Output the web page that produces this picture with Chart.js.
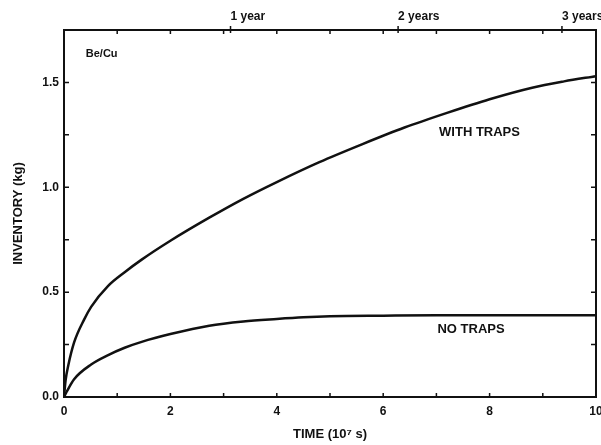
<!DOCTYPE html>
<html>
<head>
<meta charset="utf-8">
<script src="https://cdn.jsdelivr.net/npm/chart.js@4"></script>
<style>
  html, body { margin: 0; padding: 0; background: #fff; }
  #wrap { width: 601px; height: 445px; }
</style>
</head>
<body>
<div id="wrap"><canvas id="chart" width="601" height="445"></canvas></div>
<script>
// time in units of 1e7 s, inventory in kg
const withTrapsTime = [0, 0.03, 0.08, 0.19, 0.38, 0.51, 0.83, 1.14, 1.46, 2.0, 2.73, 3.37, 4.0, 4.8, 5.6, 6.4, 7.2, 8.0, 8.8, 9.4, 10];
const withTrapsKg = [0, 0.08, 0.15, 0.26, 0.37, 0.43, 0.53, 0.595, 0.655, 0.745, 0.855, 0.945, 1.025, 1.12, 1.205, 1.285, 1.355, 1.42, 1.475, 1.505, 1.53];

const noTrapsTime = [0, 0.05, 0.19, 0.51, 0.83, 1.14, 1.46, 2.0, 2.73, 3.37, 4.0, 4.5, 5, 6, 7, 8, 9, 10];
const noTrapsKg = [0, 0.025, 0.085, 0.155, 0.20, 0.235, 0.263, 0.30, 0.34, 0.36, 0.372, 0.38, 0.385, 0.388, 0.39, 0.39, 0.39, 0.39];

const xTicks = [0, 2, 4, 6, 8, 10];
const yTicks = [0, 0.5, 1.0, 1.5];
const xMinor = [1, 2, 3, 4, 5, 6, 7, 8, 9];
const yMinor = [0.25, 0.5, 0.75, 1.0, 1.25, 1.5];
// year marks on the top edge, as placed in the figure (1e7 s)
const yearTicks = [3.13, 6.28, 9.36];
const yearLabels = ["1 year", "2 years", "3 years"];

const notes = [
  { text: "Be/Cu", x: 0.41, y: 1.635, size: 11 },
  { text: "WITH TRAPS", x: 7.05, y: 1.26, size: 13 },
  { text: "NO TRAPS", x: 7.02, y: 0.32, size: 13 },
];

const FONT = "'Liberation Sans', Arial, sans-serif";
const ink = "#111";

const toPoints = (xs, ys) => xs.map((x, i) => ({ x: x, y: ys[i] }));

// inward tick marks + text notes
const decorations = {
  id: "decorations",
  afterDatasetsDraw(chart) {
    const { ctx, chartArea: a, scales } = chart;
    const sx = scales.x, sy = scales.y;
    ctx.save();
    ctx.strokeStyle = ink;
    ctx.lineWidth = 1.5;
    ctx.beginPath();
    xMinor.forEach((v) => {
      const px = sx.getPixelForValue(v);
      ctx.moveTo(px, a.bottom); ctx.lineTo(px, a.bottom - 4);
      ctx.moveTo(px, a.top); ctx.lineTo(px, a.top + 4);
    });
    yMinor.forEach((v) => {
      const py = sy.getPixelForValue(v);
      ctx.moveTo(a.left, py); ctx.lineTo(a.left + 5, py);
      ctx.moveTo(a.right, py); ctx.lineTo(a.right - 5, py);
    });
    yearTicks.forEach((v) => {
      const px = sx.getPixelForValue(v);
      ctx.moveTo(px, a.top - 4); ctx.lineTo(px, a.top + 3);
    });
    ctx.stroke();

    ctx.fillStyle = ink;
    ctx.textAlign = "left";
    ctx.textBaseline = "middle";
    notes.forEach((n) => {
      ctx.font = "bold " + n.size + "px " + FONT;
      ctx.fillText(n.text, sx.getPixelForValue(n.x), sy.getPixelForValue(n.y));
    });
    ctx.restore();
  },
};

const border = { display: true, color: ink, width: 2 };
const noPad = (s) => { s.paddingLeft = 0; s.paddingRight = 0; s.paddingTop = 0; s.paddingBottom = 0; };

new Chart(document.getElementById("chart").getContext("2d"), {
  type: "line",
  data: {
    datasets: [
      {
        label: "WITH TRAPS",
        data: toPoints(withTrapsTime, withTrapsKg),
        borderColor: ink,
        borderWidth: 2.5,
        pointRadius: 0,
        cubicInterpolationMode: "monotone",
        fill: false,
      },
      {
        label: "NO TRAPS",
        data: toPoints(noTrapsTime, noTrapsKg),
        borderColor: ink,
        borderWidth: 2.5,
        pointRadius: 0,
        cubicInterpolationMode: "monotone",
        fill: false,
      },
    ],
  },
  options: {
    responsive: false,
    animation: false,
    layout: { padding: 0 },
    plugins: { legend: { display: false }, tooltip: { enabled: false } },
    scales: {
      x: {
        type: "linear",
        position: "bottom",
        min: 0,
        max: 10,
        afterBuildTicks: (s) => { s.ticks = xTicks.map((v) => ({ value: v })); },
        ticks: { color: ink, font: { family: FONT, size: 12, weight: "bold" }, padding: 7, autoSkip: false, maxRotation: 0 },
        grid: { display: false, drawTicks: false },
        border: border,
        title: { display: true, text: "TIME (10\u2077 s)", color: ink, font: { family: FONT, size: 13, weight: "bold" }, padding: { top: 0, bottom: 3 } },
        afterFit: (s) => { s.height = 48; noPad(s); },
      },
      xTop: {
        type: "linear",
        position: "top",
        min: 0,
        max: 10,
        afterBuildTicks: (s) => { s.ticks = yearTicks.map((v) => ({ value: v })); },
        ticks: {
          color: ink,
          font: { family: FONT, size: 12, weight: "bold" },
          align: "start",
          padding: 6,
          autoSkip: false,
          maxRotation: 0,
          callback: (v, i) => yearLabels[i],
        },
        grid: { display: false, drawTicks: false },
        border: border,
        afterFit: (s) => { s.height = 30; noPad(s); },
      },
      y: {
        type: "linear",
        position: "left",
        min: 0,
        max: 1.75,
        afterBuildTicks: (s) => { s.ticks = yTicks.map((v) => ({ value: v })); },
        ticks: { color: ink, font: { family: FONT, size: 12, weight: "bold" }, padding: 5, callback: (v) => v.toFixed(1) },
        grid: { display: false, drawTicks: false },
        border: border,
        title: { display: true, text: "INVENTORY (kg)", color: ink, font: { family: FONT, size: 13, weight: "bold" }, padding: { top: 11, bottom: 0 } },
        afterFit: (s) => { s.width = 64; noPad(s); },
      },
      yRight: {
        type: "linear",
        position: "right",
        min: 0,
        max: 1.75,
        ticks: { display: false },
        grid: { display: false, drawTicks: false },
        border: border,
        afterFit: (s) => { s.width = 5; noPad(s); },
      },
    },
  },
  plugins: [decorations],
});
</script>
</body>
</html>
